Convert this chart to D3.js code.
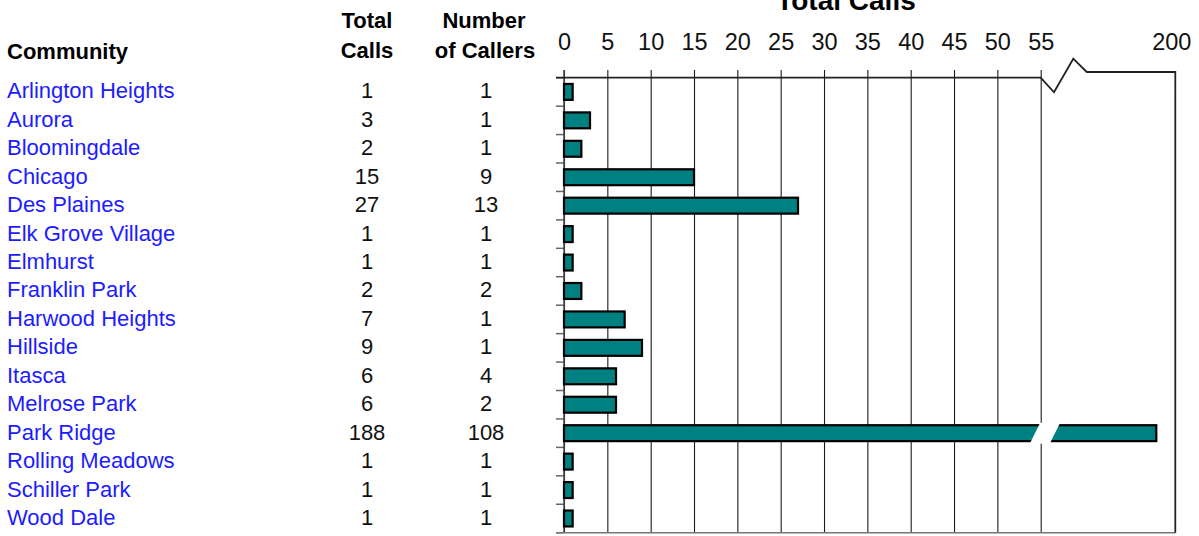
<!DOCTYPE html>
<html>
<head>
<meta charset="utf-8">
<script src="https://cdn.jsdelivr.net/npm/d3@7"></script>
<style>
  html, body { margin: 0; padding: 0; background: #fff; }
  svg { display: block; font-family: "Liberation Sans", Arial, sans-serif; }
</style>
</head>
<body>
<svg id="chart" width="1199" height="536"></svg>
<script>
// Calls by community
const communities = [
  "Arlington Heights", "Aurora", "Bloomingdale", "Chicago", "Des Plaines",
  "Elk Grove Village", "Elmhurst", "Franklin Park", "Harwood Heights", "Hillside",
  "Itasca", "Melrose Park", "Park Ridge", "Rolling Meadows", "Schiller Park", "Wood Dale"
];
const totalCalls = [1, 3, 2, 15, 27, 1, 1, 2, 7, 9, 6, 6, 188, 1, 1, 1];
const numberOfCallers = [1, 1, 1, 9, 13, 1, 1, 2, 1, 1, 4, 2, 108, 1, 1, 1];
const tickValues = [0, 5, 10, 15, 20, 25, 30, 35, 40, 45, 50, 55, 200];

// axis break: values between breakLow and breakHigh are skipped
const breakLow = 55, breakHigh = 115, axisMax = 200;

const rows = communities.map((c, i) => ({ name: c, total: totalCalls[i], callers: numberOfCallers[i] }));

const svg = d3.select("#chart");
const plotTop = 77.7, plotBottom = 532.7, plotLeft = 564, breakX = 1040.7, plotRight = 1175.3;

const x = d3.scaleLinear()
  .domain([0, breakLow, breakHigh, axisMax])
  .range([plotLeft, breakX, breakX, plotRight]);

const y = d3.scaleBand()
  .domain(communities)
  .range([plotTop, plotBottom])
  .paddingInner(0.37)
  .paddingOuter(0.185);

const step = y.step();
const blue = "#1c1cff";

// column headers
const hdr = svg.append("g").attr("font-weight", "bold").attr("font-size", 22).attr("fill", "#000");
hdr.append("text").attr("x", 7).attr("y", 59).text("Community");
hdr.append("text").attr("x", 367).attr("y", 28).attr("text-anchor", "middle").text("Total");
hdr.append("text").attr("x", 367).attr("y", 58).attr("text-anchor", "middle").text("Calls");
hdr.append("text").attr("x", 484).attr("y", 28).attr("text-anchor", "middle").text("Number");
hdr.append("text").attr("x", 485).attr("y", 58).attr("text-anchor", "middle").text("of Callers");

svg.append("text")
  .attr("x", 846).attr("y", 10)
  .attr("text-anchor", "middle")
  .attr("font-weight", "bold").attr("font-size", 28)
  .text("Total Calls");

// table rows
const rowG = svg.append("g").attr("font-size", 22);
rows.forEach(d => {
  const cy = y(d.name) + y.bandwidth() / 2 + 6.5;
  rowG.append("text").attr("x", 7).attr("y", cy).attr("fill", blue).text(d.name);
  rowG.append("text").attr("x", 367).attr("y", cy).attr("text-anchor", "middle").attr("fill", "#111").text(d.total);
  rowG.append("text").attr("x", 486).attr("y", cy).attr("text-anchor", "middle").attr("fill", "#111").text(d.callers);
});

// vertical gridlines + tick labels
const xAxis = d3.axisTop(x)
  .tickValues(tickValues)
  .tickSize(plotBottom - 70)
  .tickPadding(20)
  .tickFormat(d3.format("d"));

const gx = svg.append("g")
  .attr("transform", `translate(0,${plotBottom})`)
  .call(xAxis);
gx.select(".domain").remove();
gx.selectAll(".tick line").attr("stroke", "#1a1a1a").attr("stroke-width", 1.1);
gx.selectAll(".tick text")
  .attr("font-size", 23.5)
  .attr("font-family", "'Liberation Sans', Arial, sans-serif")
  .attr("fill", "#111");
// the right-hand gridline at the scale end is replaced by the frame
const endTick = gx.selectAll(".tick").filter(d => d === axisMax);
endTick.select("line").remove();
endTick.select("text").attr("dx", -4);

// band separators on the category axis
const sepYs = communities.map(c => y(c) - (step - y.bandwidth()) / 2).concat([plotBottom]);
svg.append("g").selectAll("line")
  .data(sepYs)
  .join("line")
  .attr("x1", plotLeft - 8).attr("x2", plotLeft)
  .attr("y1", d => d).attr("y2", d => d)
  .attr("stroke", "#666").attr("stroke-width", 1.5);

// category axis line
svg.append("line")
  .attr("x1", plotLeft).attr("x2", plotLeft)
  .attr("y1", 70).attr("y2", plotBottom)
  .attr("stroke", "#444").attr("stroke-width", 1.5);

// bottom frame line
svg.append("line")
  .attr("x1", plotLeft - 8).attr("x2", plotRight)
  .attr("y1", plotBottom).attr("y2", plotBottom)
  .attr("stroke", "#777").attr("stroke-width", 1.5);

// top frame with break symbol
const frame = d3.line();
svg.append("path")
  .attr("d", frame([
    [plotLeft - 8, plotTop], [breakX, plotTop],
    [breakX + 13.3, 92.3], [breakX + 32.6, 58.7], [breakX + 46, 72],
    [plotRight, 72], [plotRight, plotBottom]
  ]))
  .attr("fill", "none")
  .attr("stroke", "#222").attr("stroke-width", 1.8);

// bars
svg.append("g").selectAll("rect")
  .data(rows)
  .join("rect")
  .attr("x", x(0))
  .attr("y", d => y(d.name) + 1)
  .attr("width", d => x(d.total) - x(0))
  .attr("height", y.bandwidth() - 2)
  .attr("fill", "#008080")
  .attr("stroke", "#000")
  .attr("stroke-width", 2.2);

// break gap across bars that pass the break
rows.filter(d => d.total > breakLow).forEach(d => {
  const t = y(d.name) - 1.5, b = y(d.name) + y.bandwidth() + 1.5;
  svg.append("polygon")
    .attr("points", [
      [breakX - 0.5, t], [breakX + 19.5, t],
      [breakX + 9, b], [breakX - 11, b]
    ].map(p => p.join(",")).join(" "))
    .attr("fill", "#fff");
});
</script>
</body>
</html>
